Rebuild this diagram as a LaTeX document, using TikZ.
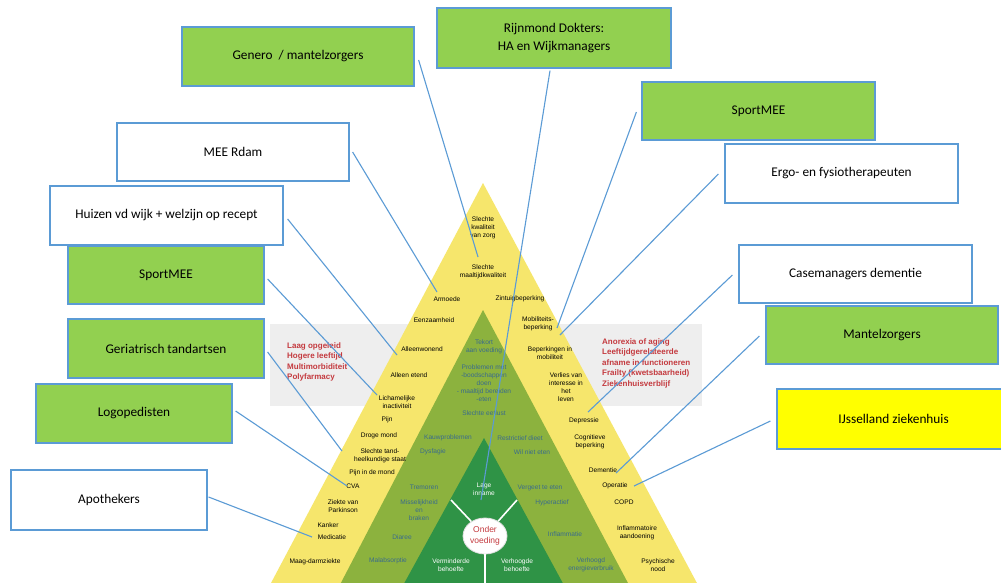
\documentclass[tikz,border=0pt]{standalone}
\usepackage{fontspec}
\setmainfont{Carlito}
\newfontfamily\arialf{Liberation Sans}
\usetikzlibrary{calc,shapes.geometric}
\definecolor{bblue}{HTML}{5B9BD5}
\definecolor{bgreen}{HTML}{92D050}
\definecolor{byellow}{HTML}{FFFF00}
\definecolor{triy}{HTML}{F6E66C}
\definecolor{trio}{HTML}{8CB23E}
\definecolor{trig}{HTML}{2F9346}
\definecolor{greyp}{HTML}{EEEEEE}
\definecolor{redt}{HTML}{C43A3F}
\definecolor{tealt}{HTML}{3A6B8C}
\begin{document}
\begin{tikzpicture}[x=1pt,y=-1pt,
  orgbox/.style={draw=bblue, line width=1.2pt, inner sep=0pt, font=\fontsize{13.3}{17.5}\selectfont, align=center, text=black},
  wbox/.style={orgbox, fill=white},
  gbox/.style={orgbox, fill=bgreen},
  ybox/.style={orgbox, fill=byellow},
  link/.style={draw=bblue, line width=1.1pt},
  ytxt/.style={font=\arialf\fontsize{6.6}{8}\selectfont, align=center, text=black, inner sep=0pt},
  otxt/.style={ytxt, text=tealt},
  dtxt/.style={ytxt, text=white},
  rtxt/.style={font=\arialf\bfseries\fontsize{8}{10.5}\selectfont, align=left, text=redt, inner sep=0pt, anchor=west},
  divider/.style={draw=white, line width=1.6pt},
]
\useasboundingbox (0,0) rectangle (1001,582);
\clip (0,0) rectangle (1001,582);
\fill[white] (0,0) rectangle (1001,582);
% grey panel
\fill[greyp] (270,324) rectangle (702,406);
\node[rtxt] (rl) at (287,362) {Laag opgeleid\\Hogere leeftijd\\Multimorbiditeit\\Polyfarmacy};
\node[rtxt] (rr) at (602,363) {Anorexia of aging\\Leeftijdgerelateerde\\afname in functioneren\\Frailty (kwetsbaarheid)\\Ziekenhuisverblijf};
% triangles
\fill[triy] (483,183) -- (262,600) -- (706,600) -- cycle;
\fill[trio] (483,310) -- (332,600) -- (637,600) -- cycle;
\fill[trig] (484,438) -- (395,600) -- (572,600) -- cycle;
% circle and dividers
\node[ellipse, fill=white, draw=black!12, line width=0.8pt, minimum width=44pt, minimum height=36pt, inner sep=0pt, align=center,
      font=\arialf\fontsize{8.5}{10.5}\selectfont, text=redt] (ov) at (485,536) {Onder\\voeding};
\coordinate (dl) at (451,500);
\coordinate (dr) at (517,500);
\coordinate (db) at (485,600);
\draw[divider] (dl) -- (ov);
\draw[divider] (dr) -- (ov);
\draw[divider] (ov) -- (db);
% yellow texts
\node[ytxt] (t1) at (483,228) {Slechte\\kwaliteit\\van zorg};
\node[ytxt] (t2) at (483,272) {Slechte\\maaltijdkwaliteit};
\node[ytxt] (t3) at (447,299) {Armoede};
\node[ytxt] (t4) at (520,299) {Zintuigbeperking};
\node[ytxt] (t5) at (434,320) {Eenzaamheid};
\node[ytxt] (t6) at (538,324) {Mobiliteits-\\beperking};
\node[ytxt] (t7) at (422,349) {Alleenwonend};
\node[ytxt] (t8) at (550,353) {Beperkingen in\\mobiliteit};
\node[ytxt] (t9) at (409,375) {Alleen etend};
\node[ytxt] (t10) at (566,387) {Verlies van\\interesse in\\het\\leven};
\node[ytxt] (t11) at (397,402) {Lichamelijke\\inactiviteit};
\node[ytxt] (t12) at (387,420) {Pijn};
\node[ytxt] (t13) at (379,436) {Droge mond};
\node[ytxt] (t14) at (380,456) {Slechte tand-\\heelkundige staat};
\node[ytxt] (t15) at (372,473) {Pijn in de mond};
\node[ytxt] (t16) at (353,486) {CVA};
\node[ytxt] (t17) at (343,506) {Ziekte van\\Parkinson};
\node[ytxt] (t18) at (328,525) {Kanker};
\node[ytxt] (t19) at (332,537) {Medicatie};
\node[ytxt] (t20) at (315,562) {Maag-darmziekte};
\node[ytxt] (t21) at (584,421) {Depressie};
\node[ytxt] (t22) at (590,442) {Cognitieve\\beperking};
\node[ytxt] (t23) at (603,470) {Dementie};
\node[ytxt] (t24) at (615,486) {Operatie};
\node[ytxt] (t25) at (624,502) {COPD};
\node[ytxt] (t26) at (637,533) {Inflammatoire\\aandoening};
\node[ytxt] (t27) at (658,565) {Psychische\\nood};
% olive texts
\node[otxt] (o1) at (484,347) {Tekort\\aan voeding};
\node[otxt] (o2) at (484,383) {Problemen met\\-boodschappen\\doen\\- maaltijd bereiden\\-eten};
\node[otxt] (o3) at (484,413) {Slechte eetlust};
\node[otxt] (o4) at (448,438) {Kauwproblemen};
\node[otxt] (o5) at (520,438) {Restrictief dieet};
\node[otxt] (o6) at (433,452) {Dysfagie};
\node[otxt] (o7) at (532,452) {Wil niet eten};
\node[otxt] (o8) at (424,487) {Tremoren};
\node[otxt] (o9) at (540,488) {Vergeet te eten};
\node[otxt] (o10) at (419,510) {Misselijkheid\\en\\braken};
\node[otxt] (o11) at (552,503) {Hyperactief};
\node[otxt] (o12) at (402,537) {Diaree};
\node[otxt] (o13) at (565,534) {Inflammatie};
\node[otxt] (o14) at (388,561) {Malabsorptie};
\node[otxt] (o15) at (591,565) {Verhoogd\\energieverbruik};
% dark green texts
\node[dtxt] (d1) at (484,489) {Lage\\inname};
\node[dtxt] (d2) at (451,565) {Verminderde\\behoefte};
\node[dtxt] (d3) at (517,565) {Verhoogde\\behoefte};
% boxes
\node[gbox, minimum width=232pt, minimum height=59pt] (genero) at (298,56.5) {Genero\ \ / mantelzorgers};
\node[gbox, minimum width=234pt, minimum height=60pt] (rijn) at (554,38) {Rijnmond Dokters:\\HA en Wijkmanagers};
\node[gbox, minimum width=233pt, minimum height=58pt] (sport2) at (758.5,111) {SportMEE};
\node[wbox, minimum width=233pt, minimum height=59pt] (ergo) at (841.5,173.5) {Ergo- en fysiotherapeuten};
\node[wbox, minimum width=232pt, minimum height=58pt] (meerdam) at (233,152) {MEE Rdam};
\node[wbox, minimum width=233pt, minimum height=59pt] (huizen) at (166.5,215.5) {Huizen vd wijk + welzijn op recept};
\node[gbox, minimum width=196pt, minimum height=58pt] (sport1) at (166,275) {SportMEE};
\node[gbox, minimum width=196pt, minimum height=59pt] (geria) at (166,348.5) {Geriatrisch tandartsen};
\node[gbox, minimum width=196pt, minimum height=59pt] (logo) at (134,413.5) {Logopedisten};
\node[wbox, minimum width=196pt, minimum height=60pt] (apo) at (109,500) {Apothekers};
\node[wbox, minimum width=233pt, minimum height=58pt] (case) at (855.5,274) {Casemanagers dementie};
\node[gbox, minimum width=232pt, minimum height=58pt] (mantel) at (882,335) {Mantelzorgers};
\node[ybox, minimum width=233pt, minimum height=60pt] (ijssel) at (893.5,419) {IJsselland ziekenhuis};
% connector end points
\coordinate (eGen) at (478,257);
\coordinate (eRijn) at (481,500);
\coordinate (eSp2) at (557,328);
\coordinate (eErgo) at (560,335);
\coordinate (eMee) at (437,292);
\coordinate (eHuiz) at (397,355);
\coordinate (eSp1) at (377,395);
\coordinate (eGer) at (342,451);
\coordinate (eLogo) at (347,486);
\coordinate (eApo) at (312,537);
\coordinate (eCase) at (588,412);
\coordinate (eMant) at (616,473);
\coordinate (eIjs) at (634,486);
% connectors
\draw[link] ($(genero.east)+(4,3.5)$) -- (eGen);
\draw[link] ($(rijn.south)+(-4,2)$) -- (eRijn);
\draw[link] ($(sport2.west)+(-5,1)$) -- (eSp2);
\draw[link] ($(ergo.west)+(-6,0.5)$) -- (eErgo);
\draw[link] ($(meerdam.east)+(3,0)$) -- (eMee);
\draw[link] ($(huizen.east)+(4,3.5)$) -- (eHuiz);
\draw[link] ($(sport1.east)+(3,4)$) -- (eSp1);
\draw[link] ($(geria.east)+(3,3.5)$) -- (eGer);
\draw[link] ($(logo.east)+(3,-2.5)$) -- (eLogo);
\draw[link] ($(apo.east)+(1,-3)$) -- (eApo);
\draw[link] ($(case.west)+(-6,1)$) -- (eCase);
\draw[link] ($(mantel.west)+(-6,1)$) -- (eMant);
\draw[link] ($(ijssel.west)+(-6,2)$) -- (eIjs);
\end{tikzpicture}
\end{document}
